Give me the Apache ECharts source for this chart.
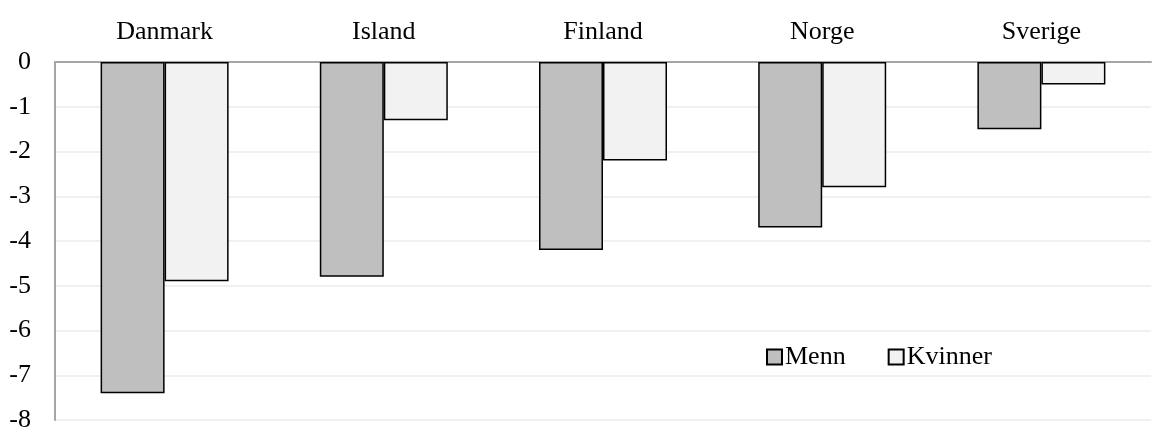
<!DOCTYPE html>
<html><head><meta charset="utf-8">
<script src="https://cdn.jsdelivr.net/npm/echarts@6/dist/echarts.min.js"></script>
<style>html,body{margin:0;padding:0;background:#fff}#c{width:1153px;height:428px}</style>
</head><body><div id="c"></div>
<script>
const categories = ['Danmark', 'Island', 'Finland', 'Norge', 'Sverige'];
const menn = [-7.4, -4.8, -4.2, -3.7, -1.5];
const kvinner = [-4.9, -1.3, -2.2, -2.8, -0.5];
const seriesNames = ['Menn', 'Kvinner'];

const font = '"Liberation Serif", "Times New Roman", serif';
const chart = echarts.init(document.getElementById('c'));
chart.setOption({
  animation: false,
  grid: { left: 55, right: 2, top: 62, bottom: 8, containLabel: false, outerBoundsMode: 'none' },
  legend: {
    data: seriesNames,
    left: 761, top: 339,
    itemWidth: 15, itemHeight: 15, itemGap: 42,
    icon: 'rect',
    textStyle: { fontFamily: font, fontSize: 26, color: '#000', padding: [0,0,0,-2] }
  },
  xAxis: {
    type: 'category', data: categories, position: 'top',
    axisLine: { show: true, lineStyle: { color: '#a6a6a6', width: 2 } },
    axisTick: { show: false },
    axisLabel: { fontFamily: font, fontSize: 26, color: '#000', margin: 17 }
  },
  yAxis: {
    type: 'value', min: -8, max: 0, interval: 1,
    axisLine: { show: true, lineStyle: { color: '#a6a6a6', width: 2 } },
    axisTick: { show: false },
    splitLine: { lineStyle: { color: '#f0f0f0', width: 2 } },
    axisLabel: { fontFamily: font, fontSize: 26, color: '#000', margin: 24 }
  },
  series: [
    { name: seriesNames[0], type: 'bar', data: menn, barWidth: 64, barGap: '0%',
      itemStyle: { color: '#bfbfbf', borderColor: '#000', borderWidth: 1.5 } },
    { name: seriesNames[1], type: 'bar', data: kvinner, barWidth: 64, barGap: '0%',
      itemStyle: { color: '#f2f2f2', borderColor: '#000', borderWidth: 1.5 } }
  ]
});
</script></body></html>
